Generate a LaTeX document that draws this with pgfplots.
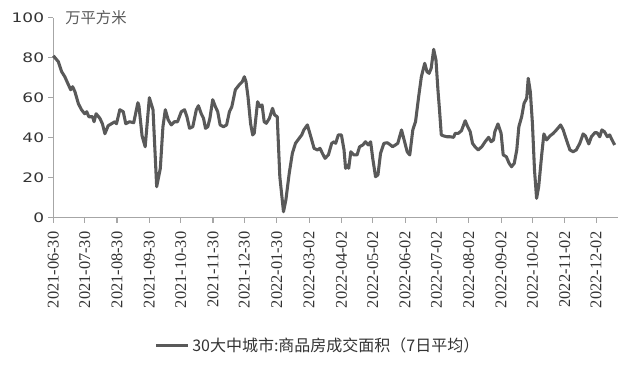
\documentclass[border=0pt]{standalone}
\usepackage{pgfplots}
\pgfplotsset{compat=1.18}
\usepackage{fontspec}
\setmainfont{Noto Sans CJK SC}
\newfontfamily\xfont{Liberation Serif}
\newfontfamily\yfont[FakeStretch=1.3]{DejaVu Sans}
\newfontfamily\cjk{Noto Sans CJK SC}
\definecolor{linec}{HTML}{595959}
\definecolor{axisc}{HTML}{A6A6A6}
\definecolor{txtc}{HTML}{333333}
\begin{document}
\begin{tikzpicture}
\path[use as bounding box] (0,0) rectangle (470.25pt,276pt);
\begin{axis}[
  at={(40pt,112.7pt)}, anchor=south west,
  scale only axis, width=423.5pt, height=150pt,
  xmin=0, xmax=541, ymin=0, ymax=100,
  axis lines=left, axis line style={-, color=axisc, line width=0.9pt},
  tick align=outside, major tick length=3.75pt,
  tick style={color=axisc, line width=0.8pt},
  xtick={0,30,61,92,122,153,183,214,245,276,306,337,367,398,429,459,490,520},
  xticklabels={2021-06-30,2021-07-30,2021-08-30,2021-09-30,2021-10-30,2021-11-30,2021-12-30,2022-01-30,2022-03-02,2022-04-02,2022-05-02,2022-06-02,2022-07-02,2022-08-02,2022-09-02,2022-10-02,2022-11-02,2022-12-02},
  xticklabel shift=6.5pt,
  xticklabel style={rotate=90, anchor=east, inner sep=0pt, font=\xfont\fontsize{12.3pt}{13pt}\selectfont, text=txtc},
  ytick={0,20,40,60,80,100},
  yticklabel shift=3pt,
  yticklabel style={anchor=east, inner sep=0pt, font=\yfont\fontsize{9.8pt}{11pt}\selectfont, text=txtc},
  /pgf/number format/assume math mode=true,
  legend style={at={(axis description cs:0.179,-0.64)}, anchor=west, draw=none, fill=none, inner sep=0pt,
     font=\cjk\fontsize{12pt}{14pt}\selectfont, text=txtc, /tikz/every even column/.append style={column sep=0pt}},
  legend image code/.code={\draw[#1, line width=2.2pt] (0pt,0pt) -- (24pt,0pt);},
  clip=false,
]
\addplot[color=linec, line width=2.3pt, line join=round, no marks] coordinates {
(0,81) (4.8,78) (8,73) (11,70.5) (14,67) (16.6,64) (18.5,65.5) (20.7,63) (24,57) (27,54)
(30,52) (32,53) (34,50.5) (37.6,50.5) (39,48) (41,52) (44.6,49.7) (47,47) (49.4,42) (52.5,46)
(55.7,47) (59,48) (60.5,47) (63.7,54) (67,53) (69.4,47) (73,48) (77,47.5) (81,57.5) (82,56)
(85,41) (88,35.5) (92,60) (95.5,54) (99,15.5) (102.5,24.7) (105,45.5) (107.3,54) (110,49) (113,46.4)
(116,48) (119,48) (122.6,53) (125.7,54) (128,50.5) (130.5,44.7) (133.6,45.5) (137,54) (139,56) (141.7,52)
(143.9,49.7) (145.8,44.7) (148,45.5) (150,49.7) (152.7,59) (155.3,55.5) (157.5,53) (159.8,46.4) (163,45.5) (166,46.4)
(168.7,53) (171,55.5) (174.4,64) (178,66.4) (181,68) (183,70.5) (184.6,68) (186.5,60.5) (189,47) (191,41.4)
(192.5,42.3) (195.7,58) (198,55.5) (200,56.4) (202,48) (204,47.2) (207,49.7) (210,54.7) (212,51.4) (214.5,50.5)
(217,20.5) (220.5,3) (222.8,8.9) (226,22.2) (229,32.2) (232,37.2) (235.5,39.7) (238,41.4) (240,43.9) (243.4,46.4)
(246.7,40.5) (249.8,34.7) (253,33.9) (255.5,34.7) (257.8,32.2) (260.3,29.7) (263.5,31.4) (266.7,37.2) (269,38) (270.5,37.2)
(273,41.4) (276,41.4) (278.5,33.9) (280,24.7) (282,26.4) (283,24.7) (285,33) (288,31.4) (291,31.4) (293.4,35.5)
(296.6,36.4) (299,38) (301.7,36.4) (304,38) (306,29.7) (308.7,20.5) (311,21.4) (313.5,32.2) (316.7,37.2) (320,37.5)
(323,36.4) (325,35.5) (327.8,36.4) (330,37.2) (333.6,43.9) (335.7,39.7) (339,33) (341.5,31.4) (344.4,43.9) (347,48)
(350,60.5) (352.6,70.5) (355.8,77.2) (358,73) (360,72.2) (362,74.7) (364.4,84.2) (366.6,78.8) (368.5,63.8) (370,53.8)
(371.7,41.4) (374,40.9) (377,40.5) (380,40.5) (383.5,40.2) (385,42.2) (388,42.2) (391,43.5) (394.6,48.5) (397,45.5)
(399.4,43) (401.6,37.2) (404,35.5) (407,33.9) (410.5,35.5) (413.7,38) (417,40.2) (419.5,38) (421.7,38.9) (423,43)
(426,46.9) (429,42.2) (431,31.4) (434,30.5) (436.7,27.2) (439,25.5) (441.6,27.2) (444,33.9) (446,45.5) (448.7,50.5)
(451,57.2) (453.5,59.7) (455,69.7) (457,63) (459,47.2) (461,23.8) (463,9.7) (465,15.5) (468,32) (470,41.9)
(472.6,38.9) (475.8,40.9) (479,42.2) (482,43.9) (486,46.4) (488.5,43.9) (491.6,38.9) (494.9,33.9) (498,33) (501,33.9)
(504.4,37.2) (507.6,41.9) (509.8,40.9) (513,36.9) (515.5,40.5) (518.8,42.5) (521,42.5) (523.5,40.5) (525.6,43.9) (528,43)
(530.8,40.5) (533,41.4) (535,39.2) (537.8,36.4)
};
\addlegendentry{30大中城市:商品房成交面积（7日平均）}
\end{axis}
\node[anchor=west, inner sep=0pt, text=linec, font=\cjk\fontsize{11.5pt}{13pt}\selectfont] at (48.75pt,262.9pt) {万平方米};
\end{tikzpicture}
\end{document}
